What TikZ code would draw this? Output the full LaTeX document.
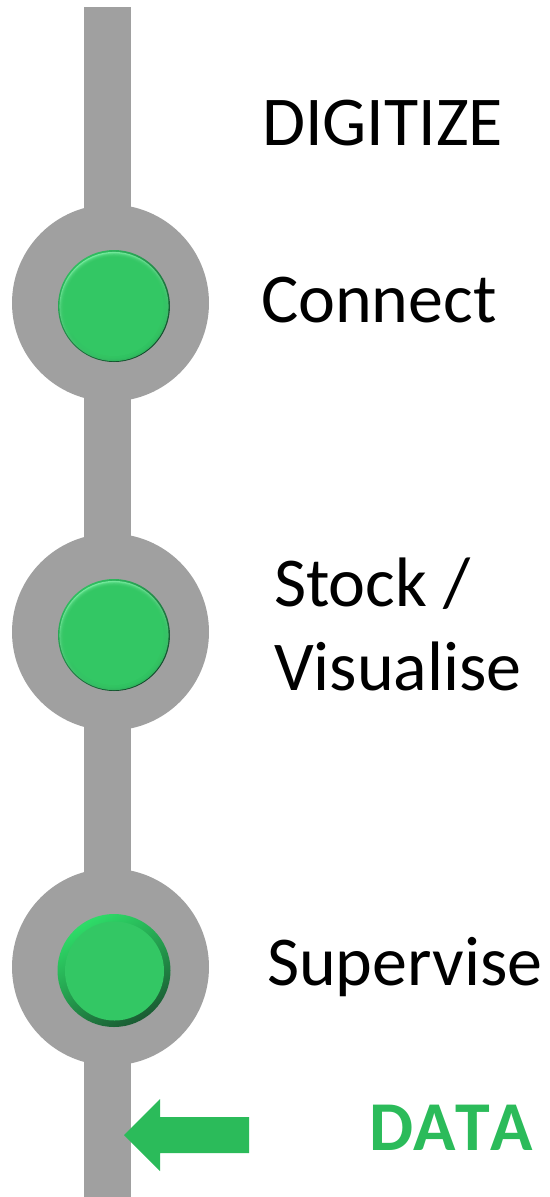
\documentclass[tikz,border=0pt]{standalone}
\usepackage{fontspec}
\setmainfont{Carlito}
\definecolor{railgray}{HTML}{A0A0A0}
\definecolor{capgreen}{HTML}{33C764}
\definecolor{arrowgreen}{HTML}{2BBB5A}
\definecolor{rimtop}{HTML}{2FBE60}
\definecolor{rimmid}{HTML}{27A052}
\definecolor{rimlow}{HTML}{12482A}
\definecolor{glowtop}{HTML}{74EA9C}
\definecolor{glowlow}{HTML}{2BA957}
\definecolor{ringtop}{HTML}{2EDC68}
\definecolor{ringmid}{HTML}{22954B}
\definecolor{ringlow}{HTML}{1A5C33}
\newcommand{\softbutton}[2]{%
  \shade[top color=rimtop,middle color=rimmid,bottom color=rimlow,shading angle=35] (#1,#2) circle (56);
  \shade[top color=glowtop,middle color=capgreen,bottom color=glowlow,shading angle=25] (#1,#2+0.5) circle (54.6);
  \foreach \r in {54,53.4,...,50}{\fill[capgreen,opacity=.3] (#1,#2+1) circle (\r);}
  \fill[capgreen] (#1,#2+0.5) circle (49.5);
}
\tikzset{
  x=1pt,y=-1pt,
  rail/.style={fill=railgray,draw=none},
  disc/.style={circle,fill=railgray,draw=none,minimum size=197pt,inner sep=0pt},
  label/.style={anchor=base west,inner sep=0pt,outer sep=0pt,text=black,font=\fontsize{70}{84}\selectfont},
  datalabel/.style={anchor=base west,inner sep=0pt,outer sep=0pt,text=arrowgreen,font=\fontsize{70}{84}\selectfont\bfseries\addfontfeature{Kerning=Off}},
  feed/.style={fill=arrowgreen,draw=none}
}
\begin{document}
\begin{tikzpicture}
\useasboundingbox (0,0) rectangle (549,1197);
\fill[rail] (84,7) rectangle (131,1197);
\node[disc] (d1) at (110.5,303) {};
\node[disc] (d2) at (110.5,632) {};
\node[disc] (d3) at (110.5,967) {};
\softbutton{114}{306}
\softbutton{114}{635}
% third button: flat cap on a wide ring
\shade[top color=ringtop,middle color=ringmid,bottom color=ringlow,shading angle=30] (114,970.5) circle (56.5);
\fill[capgreen] (114.5,971) circle (49.5);
\fill[feed] (124,1135) -- (160,1099) -- (160,1117) -- (249,1117) -- (249,1153) -- (160,1153) -- (160,1171) -- cycle;
\node[label] (t1) at (262,145) {DIGITIZE};
\node[label] (t2) at (261,322) {Connect};
\node[label] (t3) at (274,606) {Stock /};
\node[label] (t4) at (274,690) {Visualise};
\node[label] (t5) at (267,985) {Supervise};
\node[datalabel] (t6) at (369,1150) {DATA};
\end{tikzpicture}
\end{document}
